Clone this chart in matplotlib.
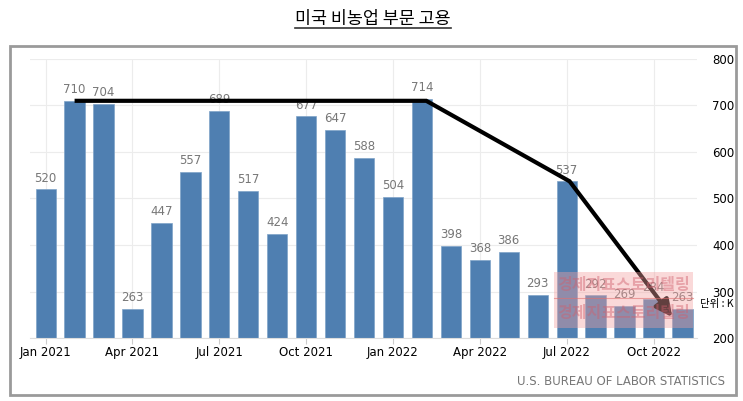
import matplotlib.pyplot as plt
from matplotlib.patches import Rectangle

plt.rcParams['font.family'] = ['Noto Sans CJK KR', 'DejaVu Sans']

# --- data ---
MONTHS = ['Jan 2021', 'Feb 2021', 'Mar 2021', 'Apr 2021', 'May 2021', 'Jun 2021',
          'Jul 2021', 'Aug 2021', 'Sep 2021', 'Oct 2021', 'Nov 2021', 'Dec 2021',
          'Jan 2022', 'Feb 2022', 'Mar 2022', 'Apr 2022', 'May 2022', 'Jun 2022',
          'Jul 2022', 'Aug 2022', 'Sep 2022', 'Oct 2022', 'Nov 2022']
JOBS = [520, 710, 704, 263, 447, 557, 689, 517, 424, 677, 647, 588,
        504, 714, 398, 368, 386, 293, 537, 292, 269, 284, 263]
TICK_LABELS = ['Jan 2021', 'Apr 2021', 'Jul 2021', 'Oct 2021',
               'Jan 2022', 'Apr 2022', 'Jul 2022', 'Oct 2022']
# hand-drawn trend arrow (month index, value)
TREND_X = [1, 13.15, 18.1]
TREND_Y = [710, 710, 537]
ARROW_END = (21.65, 245)

BAR_COLOR = '#4f7fb1'

fig = plt.figure(figsize=(7.43, 4.01), dpi=100)

# outer grey frame
fig.patches.append(Rectangle((0.0135, 0.015), 0.977, 0.870, transform=fig.transFigure,
                             fill=False, edgecolor='#9a9a9a', linewidth=2))

fig.text(0.502, 0.953, '미국 비농업 부문 고용', ha='center', va='center', fontsize=12.5)
fig.add_artist(plt.Line2D([0.397, 0.607], [0.929, 0.929], color='#333333',
                          linewidth=1.2, transform=fig.transFigure))

ax = fig.add_axes([0.040, 0.157, 0.898, 0.696])
x = list(range(len(JOBS)))
ax.bar(x, JOBS, width=0.7, color=BAR_COLOR, edgecolor='#7fa3c8', linewidth=0.5, zorder=2)

for xi, v in zip(x, JOBS):
    ax.text(xi, v + 10, str(v), ha='center', va='bottom', fontsize=8.5,
            color='#777777', family='DejaVu Sans', zorder=3)

ax.set_ylim(200, 800)
ax.set_xlim(-0.55, 22.5)
ax.yaxis.tick_right()
ax.set_yticks(range(200, 801, 100))
ticks = [MONTHS.index(t) for t in TICK_LABELS]
ax.set_xticks(ticks)
ax.set_xticklabels(TICK_LABELS)
ax.tick_params(axis='x', length=4, color='#cccccc', labelsize=8.5, pad=2)
ax.tick_params(axis='y', length=0, labelsize=8.5, pad=11)
for lbl in ax.get_xticklabels() + ax.get_yticklabels():
    lbl.set_family('DejaVu Sans')

ax.grid(True, color='#ececec', linewidth=0.8, zorder=0)
for s in ['top', 'left', 'right']:
    ax.spines[s].set_visible(False)
ax.spines['bottom'].set_color('#dddddd')

# trend line with arrow
ax.plot(TREND_X, TREND_Y, color='black', linewidth=3, solid_capstyle='butt',
        solid_joinstyle='miter', zorder=4)
ax.annotate('', xy=ARROW_END, xytext=(TREND_X[-1], TREND_Y[-1]),
            arrowprops=dict(arrowstyle='-|>,head_length=1.0,head_width=0.5',
                            color='black', linewidth=3, shrinkA=0, shrinkB=0),
            zorder=4)

# watermark (two stacked pink boxes)
ax.add_patch(Rectangle((17.57, 221.5), 4.81, 120.5, facecolor='#f4a0a0',
                       edgecolor='none', alpha=0.4, zorder=5, clip_on=False))
ax.plot([17.57, 22.38], [286, 286], color='#e07070', linewidth=0.8, alpha=0.6,
        zorder=5, clip_on=False)
for yy in [314, 254]:
    ax.text(19.97, yy, '경제지표스토리텔링', ha='center', va='center', fontsize=11.5,
            fontweight='bold', color='#d0606e', alpha=0.45, zorder=6)

fig.text(0.965, 0.242, '단위 : K', ha='center', va='center', fontsize=7.5)
fig.text(0.976, 0.048, 'U.S. BUREAU OF LABOR STATISTICS', ha='right', va='center',
         fontsize=8.5, color='#777777', family='DejaVu Sans')

fig.savefig('out.png', dpi=100)
